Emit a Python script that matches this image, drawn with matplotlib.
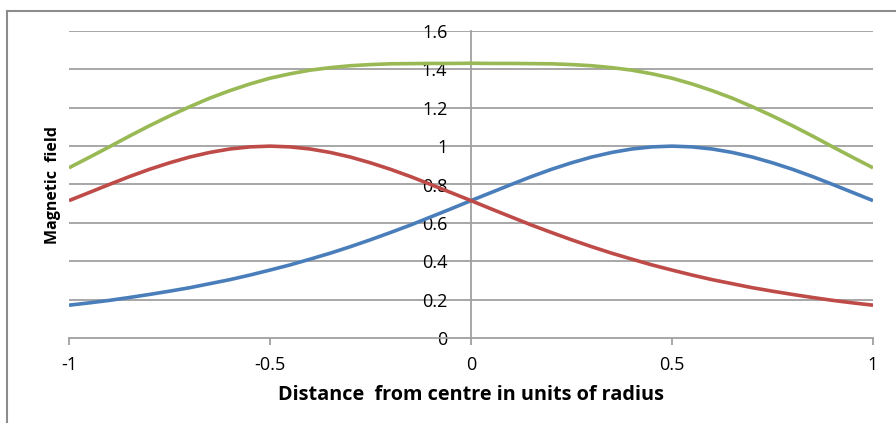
import matplotlib.pyplot as plt
from matplotlib.lines import Line2D

x = [-1.00, -0.95, -0.90, -0.85, -0.80, -0.75, -0.70, -0.65, -0.60, -0.55,
     -0.50, -0.45, -0.40, -0.35, -0.30, -0.25, -0.20, -0.15, -0.10, -0.05,
     0.00, 0.05, 0.10, 0.15, 0.20, 0.25, 0.30, 0.35, 0.40, 0.45,
     0.50, 0.55, 0.60, 0.65, 0.70, 0.75, 0.80, 0.85, 0.90, 0.95, 1.00]
coil_right = [0.171, 0.183, 0.196, 0.211, 0.227, 0.244, 0.262, 0.283, 0.304, 0.328,
              0.354, 0.381, 0.411, 0.442, 0.476, 0.512, 0.550, 0.589, 0.631, 0.673,
              0.716, 0.758, 0.800, 0.841, 0.879, 0.913, 0.943, 0.967, 0.985, 0.996,
              1.000, 0.996, 0.985, 0.967, 0.943, 0.913, 0.879, 0.841, 0.800, 0.758, 0.716]
coil_left = [0.716, 0.758, 0.800, 0.841, 0.879, 0.913, 0.943, 0.967, 0.985, 0.996,
             1.000, 0.996, 0.985, 0.967, 0.943, 0.913, 0.879, 0.841, 0.800, 0.758,
             0.716, 0.673, 0.631, 0.589, 0.550, 0.512, 0.476, 0.442, 0.411, 0.381,
             0.354, 0.328, 0.304, 0.283, 0.262, 0.244, 0.227, 0.211, 0.196, 0.183, 0.171]
total = [0.887, 0.941, 0.996, 1.052, 1.106, 1.157, 1.205, 1.250, 1.289, 1.324,
         1.354, 1.377, 1.396, 1.409, 1.419, 1.425, 1.429, 1.430, 1.431, 1.431,
         1.432, 1.431, 1.431, 1.430, 1.429, 1.425, 1.419, 1.409, 1.396, 1.377,
         1.354, 1.324, 1.289, 1.250, 1.205, 1.157, 1.106, 1.052, 0.996, 0.941, 0.887]

xticks = [-1, -0.5, 0, 0.5, 1]
xticklabels = ['-1', '-0.5', '0', '0.5', '1']
yticks = [0, 0.2, 0.4, 0.6, 0.8, 1.0, 1.2, 1.4, 1.6]
yticklabels = ['0', '0.2', '0.4', '0.6', '0.8', '1', '1.2', '1.4', '1.6']

plt.rcParams['font.family'] = ['Open Sans', 'DejaVu Sans']

W, H = 896, 423
fig = plt.figure(figsize=(W / 100, H / 100), dpi=100)

# chart area border (left and top edges)
border = '#8c8c8c'
fig.add_artist(Line2D([7 / W, 7 / W], [0, (H - 11) / H], color=border, linewidth=1.5))
fig.add_artist(Line2D([7 / W, 1], [(H - 11) / H, (H - 11) / H], color=border, linewidth=1.5))

ax = fig.add_axes([69 / W, 85 / H, 804 / W, 307 / H])
ax.set_xlim(-1, 1)
ax.set_ylim(0, 1.6)

grid = '#a0a0a0'
for yv in yticks[1:]:
    ax.axhline(yv, color=grid, linewidth=1.3, zorder=1)

kw = dict(linewidth=2.6, solid_joinstyle='round', solid_capstyle='butt')
ax.plot(x, coil_right, color='#4a7ebb', zorder=3, **kw)
ax.plot(x, coil_left, color='#be4b48', zorder=3, **kw)
ax.plot(x, total, color='#98b954', zorder=4, **kw)

for s in ['top', 'right']:
    ax.spines[s].set_visible(False)
ax.spines['left'].set_position(('data', 0))
ax.spines['left'].set_color(grid)
ax.spines['left'].set_linewidth(1.3)
ax.spines['bottom'].set_color(grid)
ax.spines['bottom'].set_linewidth(1.3)

ax.set_xticks(xticks)
ax.set_xticklabels(xticklabels)
ax.set_yticks(yticks)
ax.set_yticklabels(yticklabels)
ax.tick_params(axis='x', direction='out', length=5, color=grid, width=1.3,
               labelsize=13, pad=8)
ax.tick_params(axis='y', length=0, labelsize=13, pad=17)

ax.set_xlabel('Distance  from centre in units of radius', fontsize=14.3,
              fontweight='bold', labelpad=8)
fig.text(53 / W, (H - 185) / H, 'Magnetic  field', rotation=90,
         fontsize=11.5, fontweight='bold', ha='center', va='center')

fig.savefig('out.png', dpi=100)
